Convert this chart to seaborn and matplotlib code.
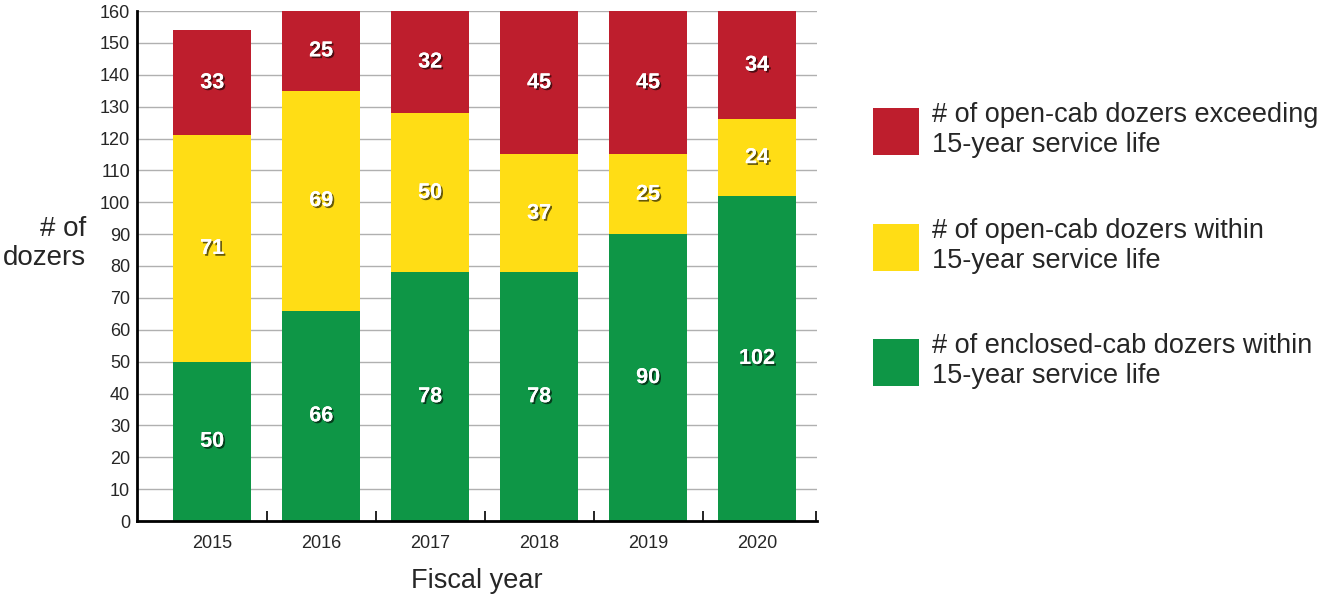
import numpy as np
import pandas as pd
import matplotlib
matplotlib.use("Agg")
import matplotlib.pyplot as plt
import matplotlib.patheffects as pe
from matplotlib.patches import Patch
import seaborn as sns

years = ["2015", "2016", "2017", "2018", "2019", "2020"]
enclosed_within = [50, 66, 78, 78, 90, 102]
open_within = [71, 69, 50, 37, 25, 24]
open_exceeding = [33, 25, 32, 45, 45, 34]

labels = [
    "# of open-cab dozers exceeding\n15-year service life",
    "# of open-cab dozers within\n15-year service life",
    "# of enclosed-cab dozers within\n15-year service life",
]
colors = ["#BE1E2D", "#FFDD15", "#0E9646"]

sns.set_theme(style="white")
plt.rcParams['font.family'] = ['Liberation Sans', 'DejaVu Sans']

g = np.array(enclosed_within)
y = np.array(open_within)
r = np.array(open_exceeding)
df = pd.DataFrame({
    "year": years,
    "top": g + y + r,
    "mid": g + y,
    "low": g,
})

fig = plt.figure(figsize=(13.23, 5.94), dpi=100)
ax = fig.add_axes([137/1323, 73/594, 680/1323, 510/594])

w = 0.716
sns.barplot(data=df, x="year", y="top", color=colors[0], width=w, saturation=1, ax=ax, zorder=2, linewidth=0)
sns.barplot(data=df, x="year", y="mid", color=colors[1], width=w, saturation=1, ax=ax, zorder=2, linewidth=0)
sns.barplot(data=df, x="year", y="low", color=colors[2], width=w, saturation=1, ax=ax, zorder=2, linewidth=0)

xmin, xmax = -0.69, 5.55
ax.set_ylim(0, 160)
ax.set_xlim(xmin, xmax)
ax.set_yticks(np.arange(0, 161, 10))
ax.yaxis.grid(True, color="#b0b0b0", linewidth=1, zorder=0)
ax.set_axisbelow(True)

ax.set_xticks(list(np.arange(0.5, 5, 1)) + [xmax - 0.005])
ax.set_xticks(np.arange(6), minor=True)
ax.set_xticklabels([])
ax.set_xticklabels(years, minor=True, fontsize=13)
ax.tick_params(axis="x", which="major", direction="in", length=7, width=1.2, color="black", bottom=True)
ax.tick_params(axis="x", which="minor", length=0, pad=10)
ax.tick_params(axis="y", length=0, labelsize=13, pad=5)

for s in ["left", "bottom"]:
    ax.spines[s].set_color("black")
    ax.spines[s].set_linewidth(2)
ax.spines["top"].set_visible(False)
ax.spines["right"].set_visible(False)

ax.set_xlabel("Fiscal year", fontsize=19.5, labelpad=11.5)
ax.set_ylabel("# of\ndozers", fontsize=20, rotation=0, ha="right", va="center", linespacing=1.15)
ax.yaxis.set_label_coords(-0.075, 0.545)

effects = [pe.withSimplePatchShadow(offset=(1.3, -1.3), shadow_rgbFace="black", alpha=0.6), pe.Normal()]
for i in range(len(years)):
    segs = [(0, g[i], g[i]), (g[i], g[i] + y[i], y[i]), (g[i] + y[i], g[i] + y[i] + r[i], r[i])]
    for lo, hi, v in segs:
        hi_c = min(hi, 160)
        ax.text(i, (lo + hi_c) / 2, str(v), ha="center", va="center", color="white",
                fontsize=15.5, fontweight="bold", path_effects=effects, zorder=5)

handles = [Patch(facecolor=c, edgecolor="none") for c in colors]
fig.legend(handles, labels, loc="upper left", bbox_to_anchor=(873/1323, 1 - 102/594),
           frameon=False, fontsize=19.5, handlelength=1.7, handleheight=2.3,
           labelspacing=2.2, handletextpad=0.47, borderaxespad=0, borderpad=0)

fig.savefig("out.png", dpi=100)
